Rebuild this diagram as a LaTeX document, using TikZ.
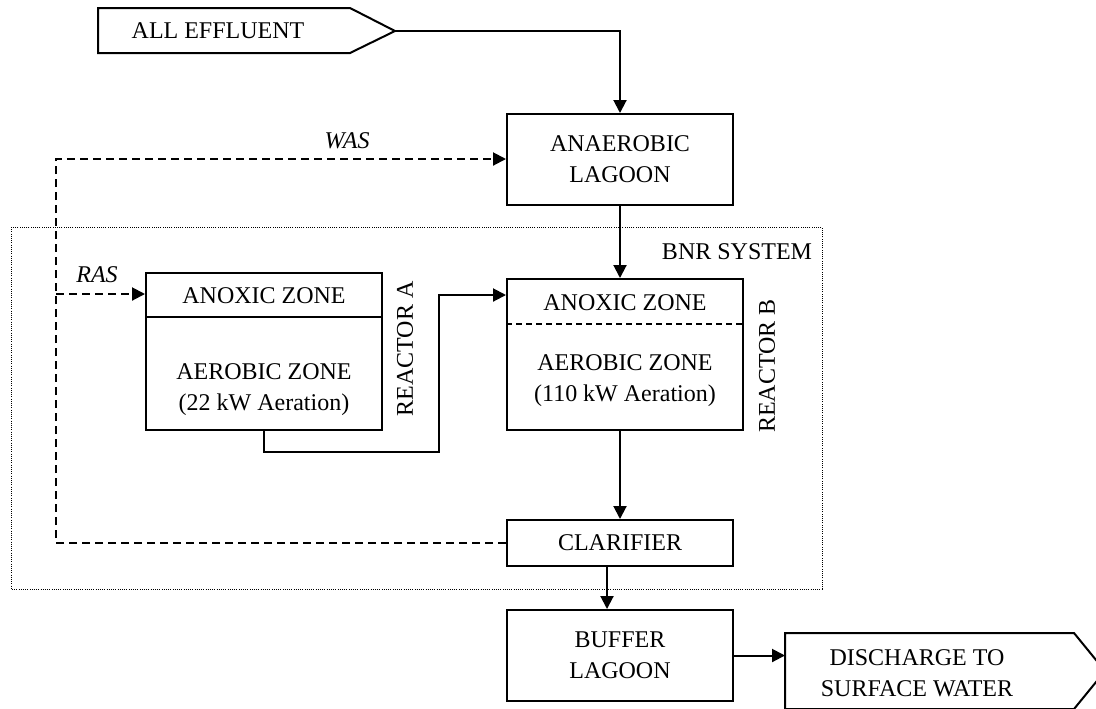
\documentclass[tikz,border=0pt]{standalone}
\usepackage{fontspec}
\setmainfont{Liberation Serif}
\usetikzlibrary{arrows.meta}
\tikzset{
  unit/.style={draw, line width=1pt, align=center, minimum width=113pt, inner sep=0pt},
  flow/.style={line width=1pt, -{Triangle[length=6.5pt,width=6.5pt]}},
  recycle/.style={flow, dash pattern=on 4pt off 2.5pt},
}
\begin{document}
\begin{tikzpicture}[x=0.5pt, y=-0.5pt, font=\fontsize{12}{15.5}\selectfont]
\clip (0,0) rectangle (1096,708);
\draw [line width=0.5pt, dash pattern=on 0.5pt off 0.6pt] (11,227) rectangle (822,589);
\node (bnr) at (737,252) {BNR SYSTEM};

\draw [line width=1pt] (98,8) -- (350,8) -- (395,31) -- (350,53) -- (98,53) -- cycle;
\coordinate (effTip) at (395,31);
\node (eff) at (218,31) {ALL EFFLUENT};

\node [unit, minimum height=45.5pt] (anaer) at (620,159.5) {ANAEROBIC\\LAGOON};

\node [unit, minimum width=118pt, minimum height=78.5pt] (rA) at (264,351.5) {};
\draw [line width=1pt] (rA.west |- 0,317) -- (rA.east |- 0,317);
\node (anoxA) at (264,296) {ANOXIC ZONE};
\node [align=center] (aerA) at (264,390) {AEROBIC ZONE\\(22 kW Aeration)};
\node [rotate=90] (labA) at (405,349) {REACTOR A};

\node [unit, minimum width=118pt, minimum height=75.5pt] (rB) at (625,354.5) {};
\draw [line width=0.6pt, dash pattern=on 3pt off 2pt] (rB.west |- 0,324) -- (rB.east |- 0,324);
\node (anoxB) at (625,303) {ANOXIC ZONE};
\node [align=center] (aerB) at (625,381) {AEROBIC ZONE\\(110 kW Aeration)};
\node [rotate=90] (labB) at (767,366) {REACTOR B};

\node [unit, minimum height=23pt] (clar) at (620,543) {CLARIFIER};
\node [unit, minimum height=45.5pt] (buffer) at (620,655.5) {BUFFER\\LAGOON};

\draw [line width=1pt] (785,633) -- (1074,633) -- (1105,671) -- (1074,709) -- (785,709) -- cycle;
\coordinate (disIn) at (785,657);
\node [align=center] (dis) at (917,673) {DISCHARGE TO\\SURFACE WATER};

\draw [flow] (effTip) -| (anaer.north);
\draw [flow] (anaer.south) -- (rB.north -| anaer.south);
\draw [flow] (rA.south) |- (439,452) |- (rB.west |- 0,295);
\draw [flow] (rB.south -| clar.north) -- (clar.north);
\draw [flow] ([xshift=-6.5pt]clar.south) -- ([xshift=-6.5pt]buffer.north);
\draw [flow] (buffer.east) -- (buffer.east -| disIn);

\coordinate (wasTop) at (56,159);
\coordinate (rasJoin) at (56,294);
\draw [recycle] (clar.west) -| (wasTop) -- (anaer.west |- wasTop);
\draw [recycle] (rasJoin) -- (rA.west |- rasJoin);
\node (was) at (347,141) {\textit{WAS}};
\node (ras) at (97,275) {\textit{RAS}};
\end{tikzpicture}
\end{document}
